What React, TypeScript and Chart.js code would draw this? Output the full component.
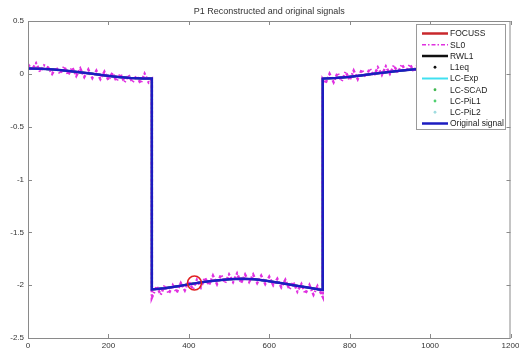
import React, { useEffect, useRef } from "react";
import { Chart, registerables } from "chart.js";

Chart.register(...registerables);

const chartTitle = "P1 Reconstructed and original signals";

// Original signal (piecewise, with jumps)
const origX = [0, 32, 64, 96, 128, 160, 192, 224, 256, 288, 308,
  308, 340, 372, 404, 436, 468, 500, 532, 564, 596, 628, 660, 692, 724, 733,
  733, 764, 796, 828, 860, 892, 924, 956, 988, 1024];
const origY = [0.05, 0.048, 0.04, 0.03, 0.015, 0.0, -0.015, -0.03, -0.04, -0.045, -0.045,
  -2.04, -2.03, -2.01, -1.99, -1.97, -1.955, -1.945, -1.94, -1.945, -1.96, -1.98, -2.0, -2.02, -2.04, -2.045,
  -0.045, -0.04, -0.03, -0.015, 0.0, 0.015, 0.03, 0.04, 0.048, 0.05];

// SL0 reconstruction (noisy)
const sl0X = [0, 10, 20, 30, 40, 50, 60, 70, 80, 90, 100, 110, 120, 130, 140, 150, 160, 170, 180, 190,
  200, 210, 220, 230, 240, 250, 260, 270, 280, 290, 300, 308,
  308, 320, 330, 340, 350, 360, 370, 380, 390, 400, 410, 420, 430, 440, 450, 460, 470, 480, 490,
  500, 510, 520, 530, 540, 550, 560, 570, 580, 590, 600, 610, 620, 630, 640, 650, 660, 670, 680, 690,
  700, 710, 720, 733,
  733, 740, 750, 760, 770, 780, 790, 800, 810, 820, 830, 840, 850, 860, 870, 880, 890, 900, 910, 920, 930,
  940, 950, 960, 970, 980, 990, 1000, 1010, 1020];
const sl0Y = [0.09, 0.04, 0.1, 0.02, 0.08, 0.06, 0.0, 0.06, 0.0, 0.07, -0.01, 0.06, -0.02, 0.05, -0.03, 0.04, -0.04, 0.03, -0.05, 0.02,
  -0.06, 0.01, -0.07, 0.0, -0.08, -0.01, -0.08, -0.02, -0.09, 0.0, -0.08, -0.05,
  -2.12, -2.01, -2.09, -2.0, -2.08, -2.0, -2.07, -1.98, -2.05, -1.96, -2.04, -1.95, -2.02, -1.93, -2.0, -1.91, -1.99, -1.9, -1.98,
  -1.9, -1.97, -1.89, -1.98, -1.9, -1.97, -1.9, -1.98, -1.91, -1.99, -1.92, -2.0, -1.94, -2.02, -1.95, -2.04, -1.97, -2.06, -1.99, -2.08,
  -2.0, -2.09, -2.01, -2.11,
  -0.05, -0.09, 0.0, -0.08, 0.01, -0.07, 0.02, -0.06, 0.03, -0.05, 0.04, -0.03, 0.05, -0.02, 0.06, -0.01, 0.07, 0.0, 0.08, 0.01, 0.09,
  0.02, 0.09, 0.02, 0.1, 0.03, 0.09, 0.03, 0.09, 0.04];

const circleX = [414];
const circleY = [-1.98];

type LegendItem = { label: string; color: string; kind: "line" | "dashdot" | "dot"; width?: number };
const legendItems: LegendItem[] = [
  { label: "FOCUSS", color: "#c8282c", kind: "line", width: 2.5 },
  { label: "SL0", color: "#e030e0", kind: "dashdot", width: 1.5 },
  { label: "RWL1", color: "#101010", kind: "line", width: 2.5 },
  { label: "L1eq", color: "#101010", kind: "dot" },
  { label: "LC-Exp", color: "#40e0f0", kind: "line", width: 2 },
  { label: "LC-SCAD", color: "#40b850", kind: "dot" },
  { label: "LC-PiL1", color: "#50d070", kind: "dot" },
  { label: "LC-PiL2", color: "#a0dce0", kind: "dot" },
  { label: "Original signal", color: "#1c1cc0", kind: "line", width: 2.5 },
];

const toPts = (xs: number[], ys: number[]) => xs.map((x, i) => ({ x, y: ys[i] }));
const fmt = (v: any) => String(Number(v));

const framePlugin = {
  id: "frame",
  afterDraw(chart: any) {
    const { ctx, chartArea } = chart;
    const { left, right, top, bottom } = chartArea;
    const xs = chart.scales.x;
    const ys = chart.scales.y;
    ctx.save();
    ctx.fillStyle = "#333";
    ctx.font = "9px 'Liberation Sans', Arial, sans-serif";
    ctx.textAlign = "center";
    ctx.textBaseline = "middle";
    ctx.fillText(chartTitle, (left + right) / 2, 12);
    ctx.strokeStyle = "#8a8a8a";
    ctx.lineWidth = 1;
    ctx.strokeRect(left + 0.5, top + 0.5, right - left - 1, bottom - top);
    ctx.beginPath();
    xs.ticks.forEach((t: any) => {
      const px = Math.round(xs.getPixelForValue(t.value)) + 0.5;
      ctx.moveTo(px, bottom); ctx.lineTo(px, bottom - 4);
      ctx.moveTo(px, top); ctx.lineTo(px, top + 4);
    });
    ys.ticks.forEach((t: any) => {
      const py = Math.round(ys.getPixelForValue(t.value)) + 0.5;
      ctx.moveTo(left, py); ctx.lineTo(left + 4, py);
      ctx.moveTo(right, py); ctx.lineTo(right - 4, py);
    });
    ctx.stroke();
    const lx = 416, ly = 24, lw = 89, lh = 105;
    ctx.fillStyle = "#fff";
    ctx.fillRect(lx, ly, lw, lh);
    ctx.strokeStyle = "#9a9a9a";
    ctx.strokeRect(lx + 0.5, ly + 0.5, lw, lh);
    ctx.font = "8.5px 'Liberation Sans', Arial, sans-serif";
    ctx.textAlign = "left";
    ctx.textBaseline = "middle";
    legendItems.forEach((it, i) => {
      const y = 33.5 + i * 11.25;
      ctx.save();
      ctx.strokeStyle = it.color;
      ctx.fillStyle = it.color;
      if (it.kind === "dot") {
        ctx.beginPath();
        ctx.arc(435, y, 1.4, 0, Math.PI * 2);
        ctx.fill();
      } else {
        ctx.lineWidth = it.width || 2;
        if (it.kind === "dashdot") ctx.setLineDash([4, 2, 1.5, 2]);
        ctx.beginPath();
        ctx.moveTo(422, y);
        ctx.lineTo(448, y);
        ctx.stroke();
      }
      ctx.restore();
      ctx.fillStyle = "#222";
      ctx.fillText(it.label, 450, y + 0.5);
    });
    ctx.restore();
  },
};

export default function App() {
  const ref = useRef<HTMLCanvasElement | null>(null);
  useEffect(() => {
    if (!ref.current) return;
    const orig = toPts(origX, origY);
    const chart = new Chart(ref.current, {
      type: "line",
      data: {
        datasets: [
          { label: "Original signal", data: orig, borderColor: "#1c1cc0", borderWidth: 2.5, pointRadius: 0, order: 0, tension: 0 },
          { label: "marker", type: "scatter", data: toPts(circleX, circleY), borderColor: "#e02020", backgroundColor: "rgba(0,0,0,0)", borderWidth: 1.5, pointRadius: 7, order: -1 } as any,
          { label: "FOCUSS", data: orig, borderColor: "#c8282c", borderWidth: 2, pointRadius: 0, order: 5 },
          { label: "RWL1", data: orig, borderColor: "#101010", borderWidth: 2, pointRadius: 0, order: 4 },
          { label: "LC-Exp", data: orig, borderColor: "#40e0f0", borderWidth: 2, pointRadius: 0, order: 3 },
          { label: "SL0", data: toPts(sl0X, sl0Y), borderColor: "#e030e0", borderWidth: 2.5, borderDash: [3, 2, 1.5, 2], pointRadius: 0, order: 2 },
        ],
      },
      options: {
        animation: false,
        responsive: true,
        maintainAspectRatio: false,
        layout: { padding: { top: 21, right: 8, left: 0, bottom: 0 } },
        plugins: { legend: { display: false }, tooltip: { enabled: false }, title: { display: false } },
        scales: {
          x: {
            type: "linear",
            min: 0,
            max: 1200,
            grid: { display: false, drawTicks: false },
            border: { display: false },
            ticks: { stepSize: 200, padding: 3, color: "#333", callback: fmt, font: { size: 8, family: "'Liberation Sans', Arial, sans-serif" }, maxRotation: 0 },
            afterFit: (s: any) => { s.height = 18; s.paddingLeft = 0; s.paddingRight = 0; },
          },
          y: {
            type: "linear",
            min: -2.5,
            max: 0.5,
            grid: { display: false, drawTicks: false },
            border: { display: false },
            ticks: { stepSize: 0.5, padding: 4, color: "#333", callback: fmt, font: { size: 8, family: "'Liberation Sans', Arial, sans-serif" } },
            afterFit: (s: any) => { s.width = 28; s.paddingTop = 0; s.paddingBottom = 0; },
          },
        },
      },
      plugins: [framePlugin],
    });
    return () => chart.destroy();
  }, []);
  return (
    <div style={{ position: "fixed", left: 0, top: 0, width: 519, height: 356, background: "#fff" }}>
      <canvas ref={ref} />
    </div>
  );
}
